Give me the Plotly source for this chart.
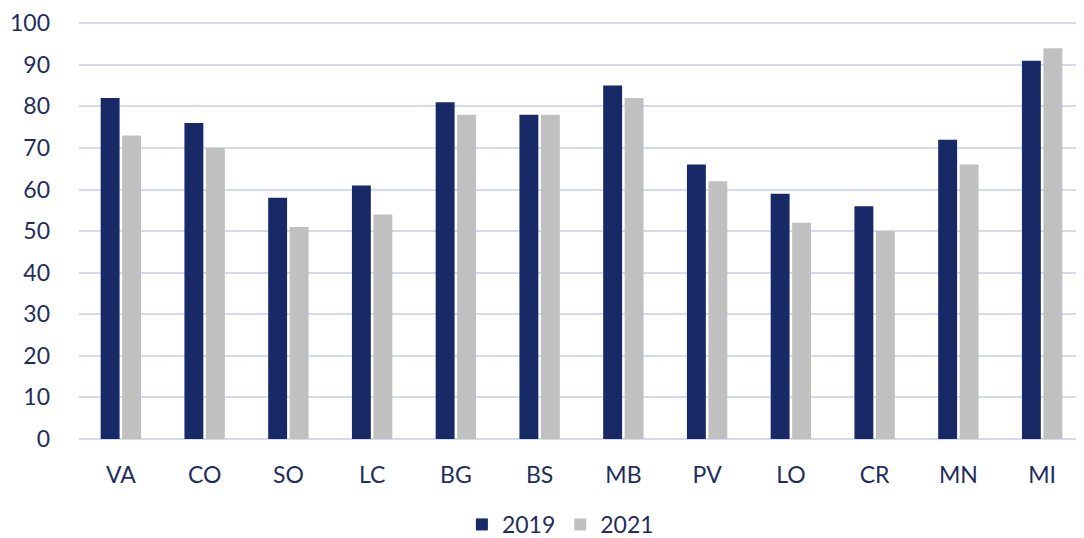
import plotly.graph_objects as go

categories = ["VA", "CO", "SO", "LC", "BG", "BS", "MB", "PV", "LO", "CR", "MN", "MI"]
values_2019 = [82, 76, 58, 61, 81, 78, 85, 66, 59, 56, 72, 91]
values_2021 = [73, 70, 51, 54, 78, 78, 82, 62, 52, 50, 66, 94]
y_ticks = [0, 10, 20, 30, 40, 50, 60, 70, 80, 90, 100]

navy = "#172A67"
gray = "#C0C0C0"
text_color = "#1F2D5C"

fig = go.Figure()
fig.add_trace(go.Bar(name="2019", x=categories, y=values_2019, marker_color=navy,
                     marker_line_width=0))
fig.add_trace(go.Bar(name="2021", x=categories, y=values_2021, marker_color=gray,
                     marker_line_width=0))

# page has an 8px body margin, so the figure is sized to fit the window
fig.update_layout(
    width=1076, height=530,
    margin=dict(l=71, r=0, t=14, b=99, autoexpand=False),
    barmode="group", bargap=0.487, bargroupgap=0.12,
    plot_bgcolor="white", paper_bgcolor="white",
    font=dict(family="Lato, sans-serif", size=23, color=text_color),
    showlegend=True,
    legend=dict(orientation="h", x=0.479, xanchor="center", y=-0.205, yanchor="middle",
                font=dict(size=23, color=text_color), itemwidth=30,
                traceorder="normal"),
)
fig.update_yaxes(range=[0, 100.3], tickvals=y_ticks, showgrid=True, gridcolor="#D3DBF2",
                 gridwidth=2, zeroline=True, zerolinecolor="#D3DBF2", zerolinewidth=2,
                 ticks="", ticklabelstandoff=28, showline=False, automargin=False)
fig.update_xaxes(showgrid=False, ticks="", ticklabelstandoff=20, showline=False,
                 automargin=False)

fig.write_html("out.html")
